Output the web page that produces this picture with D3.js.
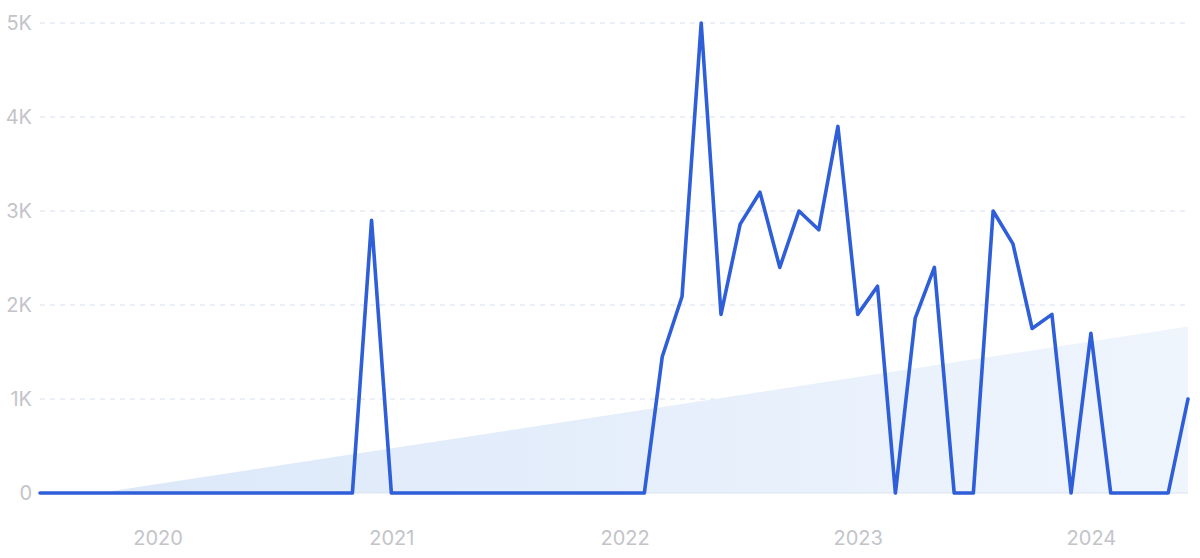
<!DOCTYPE html>
<html>
<head>
<meta charset="utf-8">
<script src="https://cdn.jsdelivr.net/npm/d3@7"></script>
<style>
  html, body { margin: 0; padding: 0; background: #ffffff; }
  svg { display: block; }
</style>
</head>
<body>
<svg id="chart" width="1200" height="558"></svg>
<script>
// Monthly periods, Jul 2019 .. Jun 2024
const months = [
  "2019-07","2019-08","2019-09","2019-10","2019-11","2019-12",
  "2020-01","2020-02","2020-03","2020-04","2020-05","2020-06",
  "2020-07","2020-08","2020-09","2020-10","2020-11","2020-12",
  "2021-01","2021-02","2021-03","2021-04","2021-05","2021-06",
  "2021-07","2021-08","2021-09","2021-10","2021-11","2021-12",
  "2022-01","2022-02","2022-03","2022-04","2022-05","2022-06",
  "2022-07","2022-08","2022-09","2022-10","2022-11","2022-12",
  "2023-01","2023-02","2023-03","2023-04","2023-05","2023-06",
  "2023-07","2023-08","2023-09","2023-10","2023-11","2023-12",
  "2024-01","2024-02","2024-03","2024-04","2024-05","2024-06"
];
const values = [
  0,0,0,0,0,0,
  0,0,0,0,0,0,
  0,0,0,0,0,2900,
  0,0,0,0,0,0,
  0,0,0,0,0,0,
  0,0,1450,2090,5000,1900,
  2860,3200,2400,3000,2800,3900,
  1900,2200,0,1860,2400,0,
  0,3000,2650,1750,1900,0,
  1700,0,0,0,0,1000
];
// Trend line endpoints
const trendMonths = ["2019-10", "2024-06"];
const trendValues = [0, 1770];

const yTicks = [0, 1000, 2000, 3000, 4000, 5000];
const yTickLabels = ["0", "1K", "2K", "3K", "4K", "5K"];
const xTicks = ["2020-01", "2021-01", "2022-01", "2023-01", "2024-01"];
const xTickLabels = ["2020", "2021", "2022", "2023", "2024"];

const parse = d3.timeParse("%Y-%m");
const data = months.map((m, i) => ({ date: parse(m), value: values[i] }));
const trend = trendMonths.map((m, i) => ({ date: parse(m), value: trendValues[i] }));

const svg = d3.select("#chart");
const margin = { left: 40, right: 12, top: 23, bottom: 65 };
const W = 1200, H = 558;

const x = d3.scaleTime()
  .domain(d3.extent(data, d => d.date))
  .range([margin.left, W - margin.right]);
const y = d3.scaleLinear()
  .domain([0, 5000])
  .range([H - margin.bottom, margin.top]);

const defs = svg.append("defs");
const grad = defs.append("linearGradient")
  .attr("id", "trendGrad")
  .attr("x1", "0%").attr("x2", "100%").attr("y1", "0%").attr("y2", "0%");
grad.append("stop").attr("offset", "0%").attr("stop-color", "#dce8f9");
grad.append("stop").attr("offset", "100%").attr("stop-color", "#eff5fd");

// grid lines
const grid = svg.append("g");
grid.selectAll("line")
  .data(yTicks.filter(t => t > 0))
  .join("line")
  .attr("x1", margin.left).attr("x2", W - margin.right)
  .attr("y1", d => y(d)).attr("y2", d => y(d))
  .attr("stroke", "#d6deee")
  .attr("stroke-width", 1)
  .attr("stroke-dasharray", "5,5");

// trend area
svg.append("path")
  .datum(trend)
  .attr("fill", "url(#trendGrad)")
  .attr("d", d3.area().x(d => x(d.date)).y0(y(0)).y1(d => y(d.value)));

// baseline
svg.append("line")
  .attr("x1", margin.left).attr("x2", W - margin.right)
  .attr("y1", y(0)).attr("y2", y(0))
  .attr("stroke", "#dde3ef").attr("stroke-width", 1);

// y axis labels
const yAxis = d3.axisLeft(y)
  .tickValues(yTicks)
  .tickFormat((d, i) => yTickLabels[i])
  .tickSize(0).tickPadding(8);
const yg = svg.append("g")
  .attr("transform", `translate(${margin.left},0)`)
  .call(yAxis);
yg.select(".domain").remove();
yg.selectAll("text")
  .attr("fill", "#c3c4c9")
  .style("font-family", "Inter, 'Noto Sans', sans-serif")
  .style("font-size", "20px");

// x axis labels
const xAxis = d3.axisBottom(x)
  .tickValues(xTicks.map(parse))
  .tickFormat((d, i) => xTickLabels[i])
  .tickSize(0).tickPadding(38);
const xg = svg.append("g")
  .attr("transform", `translate(0,${y(0)})`)
  .call(xAxis);
xg.select(".domain").remove();
xg.selectAll("text")
  .attr("fill", "#c3c4c9")
  .style("font-family", "Inter, 'Noto Sans', sans-serif")
  .style("font-size", "20px");

// main line
svg.append("path")
  .datum(data)
  .attr("fill", "none")
  .attr("stroke", "#2f5ed9")
  .attr("stroke-width", 3.6)
  .attr("stroke-linejoin", "round")
  .attr("stroke-linecap", "round")
  .attr("d", d3.line().x(d => x(d.date)).y(d => y(d.value)));
</script>
</body>
</html>
